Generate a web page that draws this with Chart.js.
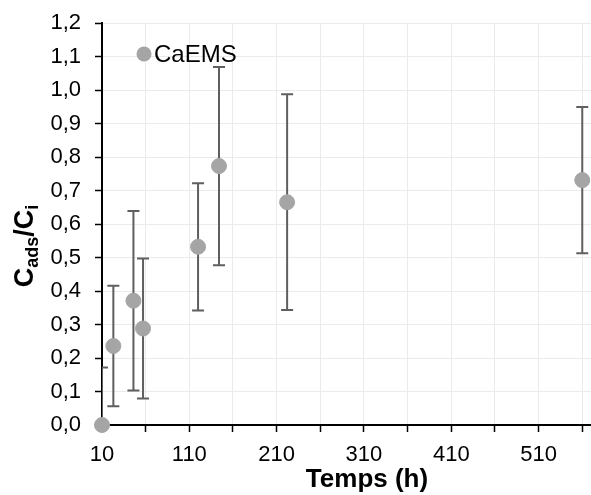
<!DOCTYPE html>
<html>
<head>
<meta charset="utf-8">
<script src="https://cdn.jsdelivr.net/npm/chart.js@4.4.1/dist/chart.umd.min.js"></script>
<style>
  html, body { margin: 0; padding: 0; background: #fff; }
  canvas { display: block; }
</style>
</head>
<body>
<canvas id="chart" width="591" height="495"></canvas>
<script>
// Data
const times = [10, 23, 46, 57, 120, 144, 222, 560];
const ratio = [0, 0.236, 0.371, 0.288, 0.532, 0.773, 0.665, 0.731];
const errors = [0.172, 0.18, 0.268, 0.209, 0.19, 0.296, 0.322, 0.218];
const seriesName = 'CaEMS';

// Axis ticks
const xTickValues = [10, 60, 110, 160, 210, 260, 310, 360, 410, 460, 510, 560];
const xTickLabels = [10, 110, 210, 310, 410, 510];

const FONT = "'Liberation Sans', Arial, sans-serif";

// error bars drawn under the markers
const errorBars = {
    id: 'errorBars',
    beforeDatasetsDraw(chart) {
        const { ctx, chartArea, scales: { x, y } } = chart;
        ctx.save();
        ctx.beginPath();
        ctx.rect(chartArea.left, chartArea.top, chartArea.width, chartArea.height);
        ctx.clip();
        ctx.strokeStyle = '#5f5f5f';
        ctx.lineWidth = 2;
        times.forEach((t, i) => {
            const px = x.getPixelForValue(t);
            const top = y.getPixelForValue(ratio[i] + errors[i]);
            const bot = y.getPixelForValue(ratio[i] - errors[i]);
            ctx.beginPath();
            ctx.moveTo(px, top); ctx.lineTo(px, bot);
            ctx.moveTo(px - 6, top); ctx.lineTo(px + 6, top);
            ctx.moveTo(px - 6, bot); ctx.lineTo(px + 6, bot);
            ctx.stroke();
        });
        ctx.restore();
    }
};

// axis titles (with subscripts) and the legend inside the plot
const labels = {
    id: 'labels',
    afterDraw(chart) {
        const { ctx } = chart;
        ctx.save();
        ctx.fillStyle = '#000';

        // y title: C_ads / C_i
        const parts = [
            { t: 'C', size: 27, dy: 0 },
            { t: 'ads', size: 18, dy: 5 },
            { t: '/C', size: 27, dy: 0 },
            { t: 'i', size: 18, dy: 5 }
        ];
        ctx.translate(33, 246);
        ctx.rotate(-Math.PI / 2);
        ctx.textBaseline = 'alphabetic';
        let total = 0;
        parts.forEach(p => { ctx.font = `bold ${p.size}px ${FONT}`; p.w = ctx.measureText(p.t).width; total += p.w; });
        let cx = -total / 2;
        parts.forEach(p => {
            ctx.font = `bold ${p.size}px ${FONT}`;
            ctx.fillText(p.t, cx, p.dy);
            cx += p.w;
        });
        ctx.setTransform(1, 0, 0, 1, 0, 0);

        // x title
        ctx.font = `bold 26px ${FONT}`;
        ctx.textAlign = 'center';
        ctx.fillText('Temps (h)', 367, 487);

        // legend
        ctx.fillStyle = '#a5a5a5';
        ctx.beginPath();
        ctx.arc(144, 54, 7.5, 0, Math.PI * 2);
        ctx.fill();
        ctx.fillStyle = '#000';
        ctx.textAlign = 'left';
        ctx.textBaseline = 'middle';
        ctx.font = `24px ${FONT}`;
        ctx.fillText(seriesName, 154, 55);
        ctx.restore();
    }
};

new Chart(document.getElementById('chart'), {
    type: 'scatter',
    data: {
        datasets: [{
            label: seriesName,
            data: times.map((t, i) => ({ x: t, y: ratio[i] })),
            backgroundColor: '#a5a5a5',
            borderColor: '#a5a5a5',
            pointRadius: 7.5,
            pointHoverRadius: 7.5,
            clip: false
        }]
    },
    options: {
        responsive: false,
        animation: false,
        events: [],
        layout: { autoPadding: false, padding: { top: 23, right: 0, left: 0, bottom: 0 } },
        plugins: {
            legend: { display: false },
            tooltip: { enabled: false }
        },
        scales: {
            x: {
                type: 'linear',
                min: 10,
                max: 570,
                afterBuildTicks: s => { s.ticks = xTickValues.map(v => ({ value: v })); },
                afterFit: s => { s.height = 70; s.paddingLeft = 0; s.paddingRight = 0; },
                ticks: {
                    autoSkip: false,
                    maxRotation: 0,
                    padding: 10,
                    color: '#000',
                    font: { family: FONT, size: 22 },
                    callback: v => xTickLabels.includes(v) ? String(v) : ''
                },
                grid: { color: '#ebebeb', tickColor: '#000', tickLength: 7, tickWidth: 1.5 },
                border: { color: '#000', width: 2 }
            },
            y: {
                min: 0,
                max: 1.2,
                afterFit: s => { s.width = 102; s.paddingTop = 0; s.paddingBottom = 0; },
                ticks: {
                    stepSize: 0.1,
                    padding: 14,
                    color: '#000',
                    font: { family: FONT, size: 22 },
                    callback: v => v.toFixed(1).replace('.', ',')
                },
                grid: { color: '#ebebeb', tickColor: '#000', tickLength: 7, tickWidth: 1.5 },
                border: { color: '#000', width: 2 }
            }
        }
    },
    plugins: [errorBars, labels]
});
</script>
</body>
</html>
